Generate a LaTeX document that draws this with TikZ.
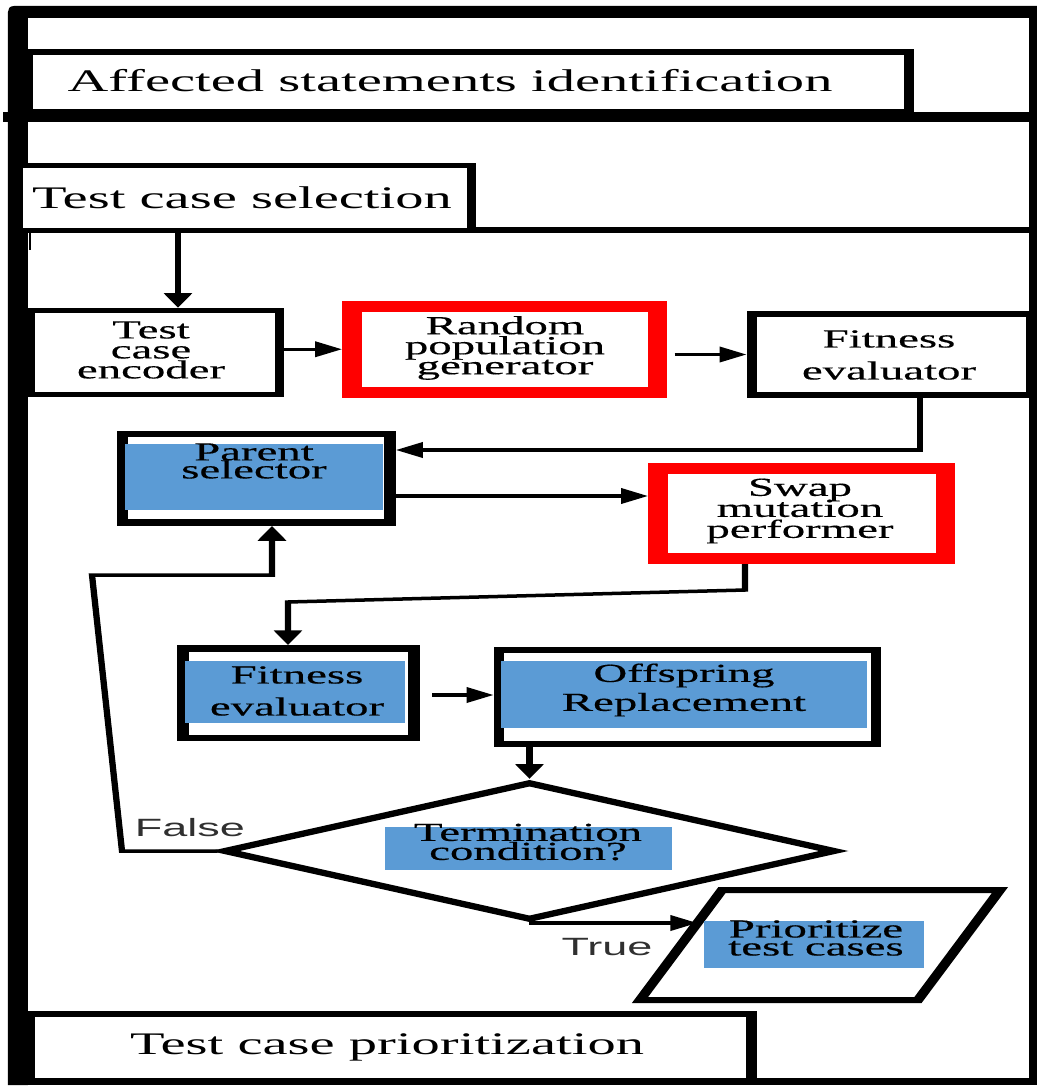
\documentclass[tikz,border=0pt]{standalone}
\usepackage{fontspec}
\setmainfont{Liberation Serif}
\newfontfamily\lsans{Liberation Sans}
\newfontfamily\heavyserif{Liberation Serif}[FakeBold=0.35]
\usetikzlibrary{arrows.meta,fit,shapes.geometric,calc}
\definecolor{boxblue}{HTML}{5B9BD5}
\definecolor{lblgray}{HTML}{303030}
\lineskiplimit=-100pt
\begin{document}
\begin{tikzpicture}
\useasboundingbox (0,0) rectangle (519pt,-543pt);
\begin{scope}[transform canvas={xscale=1.8}, x=0.277778pt, y=-0.5pt,
  box/.style={draw, inner sep=0pt, line width=#1},
  redbox/.style={draw=red, inner sep=0pt, line width=5.5pt},
  conn/.style={line width=1.75pt, -{Triangle[length=7.5pt,width=7.5pt]}},
  head/.style={font=\fontsize{15.7}{19}\selectfont, inner sep=0pt},
  txt/.style={font=\heavyserif\fontsize{13}{#1}\selectfont, align=center, inner sep=0pt},
  lab/.style={font=\lsans\fontsize{12.5}{15}\selectfont, text=lblgray, inner sep=0pt}]
% outer frame
\fill (8,1085) -- (8,12) to[out=90,in=180] (14,6) -- (1037,6) -- (1037,18) -- (28,18) -- (28,1085) -- cycle;
\fill (1029,6) rectangle (1037,1085);
\fill (8,1078) rectangle (1037,1085);
\fill (3,112) rectangle (1037,122);
\fill (17,227) rectangle (1037,233);
\draw[line width=0.6pt] (30,218) -- (30,250);
% section boxes
\node[box=3pt, fit={(28,52) (909,112)}] (aff) {};
\node[box=2.5pt, fill=white, fit={(19,165.5) (472,230)}] (sel) {};
\node[box=3pt, fit={(30,1014) (751.5,1081)}] (tcp) {};
% process boxes
\node[box=2.5pt, fit={(31,310.5) (280,394.5)}] (enc) {};
\node[redbox, fit={(352,306.5) (657.5,392)}] (rpg) {};
\node[box=3pt, fit={(752,314) (1031,395)}] (fit1) {};
\node[box=3.25pt, fit={(122.5,434) (390,522.5)}] (ps) {};
\node[redbox, fit={(658,468.5) (945.5,558.5)}] (swap) {};
\node[box=3.25pt, fit={(183,648.5) (414,738)}] (fit2) {};
\node[box=3pt, fit={(499,650) (876,743.5)}] (off) {};
\node[diamond, draw, line width=3pt, inner sep=0pt, minimum width=170.3pt, minimum height=69pt] (dia) at (529.5,851) {};
% parallelogram (output)
\coordinate (pBL) at (640,1000);
\coordinate (pTL) at (722,890);
\coordinate (pTR) at (1000,890);
\coordinate (pBR) at (918,1000);
\draw[line width=3pt, line join=miter] (pBL) -- (pTL) -- (pTR) -- (pBR) -- cycle;
% blue fills
\fill[boxblue] (125,444) rectangle (383,510);
\fill[boxblue] (185,661) rectangle (405,723);
\fill[boxblue] (501,661) rectangle (867,728);
\fill[boxblue] (385,827) rectangle (672,870);
\fill[boxblue] (704,921) rectangle (924,968);
% texts
\node[head, anchor=base] (aff-t) at (450,92) {Affected statements identification};
\node[head, anchor=base] (sel-t) at (242,208) {Test case selection};
\node[head, anchor=base] (tcp-t) at (387,1054) {Test case prioritization};
\node[txt=10pt] (enc-t) at (151,350) {Test\\case\\encoder};
\node[txt=10pt] (rpg-t) at (505,348) {Random\\population\\generator};
\node[txt=16pt] (fit1-t) at (889,355) {Fitness\\evaluator};
\node[txt=9pt] (ps-t) at (254,461) {Parent\\selector};
\node[txt=10.5pt] (swap-t) at (800,511) {Swap\\mutation\\performer};
\node[txt=16pt] (fit2-t) at (297,691) {Fitness\\evaluator};
\node[txt=14.5pt] (off-t) at (684,690) {Offspring\\Replacement};
\node[txt=9.5pt] (dia-t) at (528,842) {Termination\\condition?};
\node[txt=9pt] (prio-t) at (816,938) {Prioritize\\test cases};
\node[lab] (false) at (190,828) {False};
\node[lab] (true) at (607,947) {True};
% connectors
\coordinate (a1) at (178,0);
\draw[conn] (sel.south -| a1) -- (enc.north -| a1);
\draw[conn] (enc.east |- rpg.west) -- (rpg.west);
\draw[conn] ([xshift=2pt]rpg.east |- fit1.west) -- (fit1.west);
\coordinate (c1) at (920,450);
\draw[conn] (fit1.south -| c1) -- (c1) -- (ps.east |- c1);
\coordinate (c2) at (0,496);
\draw[conn] (ps.east |- c2) -- (swap.west |- c2);
\coordinate (c3) at (745,590);
\coordinate (c4) at (288,602);
\draw[conn] (swap.south -| c3) -- (c3) -- (c4) -- (fit2.north -| c4);
\coordinate (c5) at (0,695);
\draw[conn, shorten <=3.5pt] (fit2.east |- c5) -- (off.west |- c5);
\draw[conn] (off.south -| dia.north) -- (dia.north);
\coordinate (c7) at (122,850);
\coordinate (c8) at (92,575);
\coordinate (c9) at (272,575);
\draw[conn] (dia.west) -- (dia.west -| c7) -- (c8) -- (c9) -- (ps.south -| c9);
\coordinate (pt) at ($(pBL)!0.7!(pTL)$);
\draw[conn] (dia.south) -- (dia.south -| pt);
\end{scope}
\end{tikzpicture}
\end{document}
